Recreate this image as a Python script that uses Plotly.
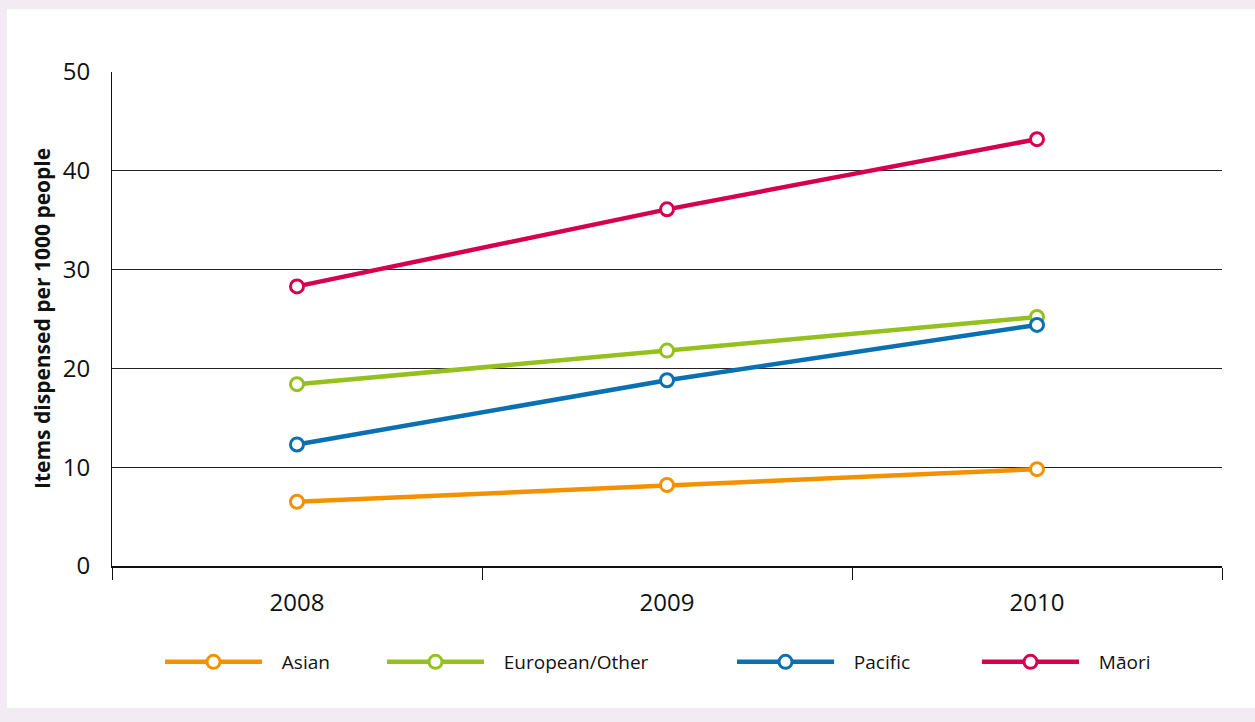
import plotly.graph_objects as go

years = ["2008", "2009", "2010"]
series_names = ["Asian", "European/Other", "Pacific", "Māori"]
asian = [6.5, 8.2, 9.8]
european = [18.4, 21.8, 25.2]
pacific = [12.3, 18.8, 24.4]
maori = [28.3, 36.1, 43.2]
y_ticks = [0, 10, 20, 30, 40, 50]
y_title = "Items dispensed per 1000 people"

colors = ["#F39200", "#95C11F", "#0A70B4", "#D5004F"]
values = [asian, european, pacific, maori]
legend_ids = ["legend", "legend2", "legend3", "legend4"]
legend_glyph_x = [165, 387, 737, 982]  # pixel positions of legend entries

FONT = "Open Sans"
W, H = 1255, 722
ML, MR, MT, MB = 112, 33, 72, 156
PW, PH = W - ML - MR, H - MT - MB
NBSP = "\u00a0"

fig = go.Figure()
for name, vals, col, lid in zip(series_names, values, colors, legend_ids):
    fig.add_trace(go.Scatter(
        x=years, y=vals, name=NBSP * 3 + name, mode="lines+markers",
        legend=lid,
        line=dict(color=col, width=4.5),
        marker=dict(symbol="circle", size=13, color="white",
                    line=dict(color=col, width=3)),
    ))

# white inner panel on lavender page
fig.add_shape(type="rect", xref="paper", yref="paper",
              x0=(7 - ML) / PW, x1=(W - ML) / PW + 0.01,
              y0=(MT + PH - 708) / PH, y1=(MT + PH - 9) / PH,
              fillcolor="white", line=dict(width=0), layer="below")

fig.add_annotation(text="<b>" + y_title + "</b>", xref="paper", yref="paper",
                   x=(42 - ML) / PW, y=0.5, xanchor="center", yanchor="middle",
                   textangle=-90, showarrow=False,
                   font=dict(family=FONT, size=21, color="#111"))

legend_common = dict(orientation="h", xref="container", yref="container",
                     xanchor="left", yanchor="middle", y=1 - 662 / H,
                     itemwidth=97, bgcolor="rgba(0,0,0,0)",
                     font=dict(family=FONT, size=19, color="#111"))
layout_legends = {}
for lid, gx in zip(legend_ids, legend_glyph_x):
    layout_legends[lid] = dict(legend_common, x=(gx - 5) / W)

fig.update_layout(
    width=W, height=H,
    margin=dict(l=ML, r=MR, t=MT, b=MB, autoexpand=False),
    paper_bgcolor="#F2EBF3", plot_bgcolor="white",
    font=dict(family=FONT, color="#111"),
    showlegend=True,
    **layout_legends,
)
fig.update_xaxes(
    type="category", range=[-0.5, 2.5], tickson="boundaries",
    ticks="outside", ticklen=12, tickcolor="#111", tickwidth=1,
    showline=True, linecolor="#111", linewidth=2,
    showgrid=False, ticklabelstandoff=14,
    tickfont=dict(family=FONT, size=24, color="#111"),
)
fig.update_yaxes(
    range=[0, 50], tickvals=y_ticks, showgrid=True, gridcolor="#222", gridwidth=1,
    showline=True, linecolor="#111", linewidth=1, zeroline=False,
    ticks="outside", ticklen=16, tickcolor="rgba(0,0,0,0)",
    tickfont=dict(family=FONT, size=24, color="#111"),
)
fig.write_html("out.html", config={"displayModeBar": False},
               post_script="document.body.style.margin='0px';")
